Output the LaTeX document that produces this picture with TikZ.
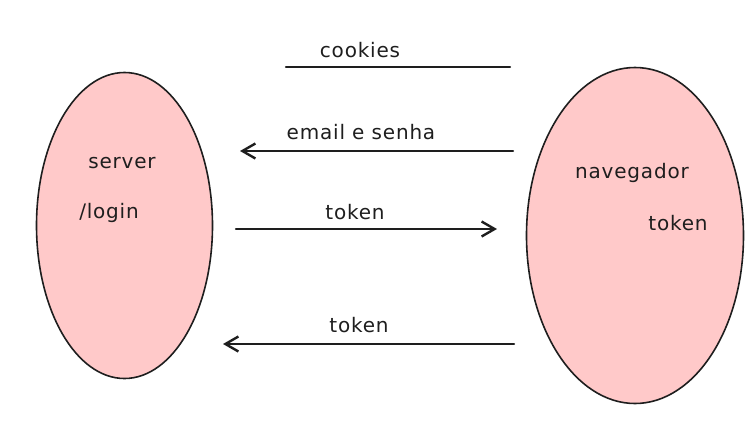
\documentclass[tikz,border=0pt]{standalone}
\usepackage{fontspec}
\setmainfont[LetterSpace=4]{DejaVu Sans}
\usetikzlibrary{positioning}
\usetikzlibrary{shapes}
\usetikzlibrary{arrows.meta}

\definecolor{blobpink}{HTML}{FFC9C9}
\definecolor{ink}{HTML}{1E1E1E}

\tikzset{
  blob/.style={ellipse, draw=ink, fill=blobpink, line width=1.6pt, inner sep=0pt},
  msg/.style={draw=ink, line width=2.4pt, line cap=round},
  tip/.style={-{Straight Barb[length=13pt, width=15pt, line width=2.4pt]}},
  lbl/.style={text=ink, font=\fontsize{20}{23}\selectfont, inner sep=0pt}
}

\begin{document}
\begin{tikzpicture}[x=1pt, y=-1pt]
				\useasboundingbox (0,0) rectangle (753,429);
				
				\node[blob, minimum width=176pt, minimum height=306pt] (server) at (124.5,225.5) {};
				\node[blob, minimum width=217pt, minimum height=336pt] (browser) at (635,235.5) {};
				
				\node[lbl] (serverlbl) at (122,163) {server};
				\node[lbl] (loginlbl) at (109,213) {/login};
				\node[lbl] (browserlbl) at (632,173) {navegador};
				\node[lbl] (storedtoken) at (678,223) {token};
				
				\coordinate (cookiesL) at (286,67);
				\coordinate (cookiesR) at (510,67);
				\coordinate (loginS) at (513,151);
				\coordinate (loginE) at (240,151);
				\coordinate (tokenS) at (236,229);
				\coordinate (tokenE) at (497,229);
				\coordinate (backS) at (514,344);
				\coordinate (backE) at (223,344);
				
				\draw[msg]  (cookiesL) -- (cookiesR);
				\draw[msg, tip]  (loginS) -- (loginE);
				\draw[msg, tip]  (tokenS) -- (tokenE);
				\draw[msg, tip]  (backS) -- (backE);
				
				\node[lbl] (cookieslbl) at (360,50) {cookies};
				\node[lbl] (loginlbl2) at (361,132) {email e senha};
				\node[lbl] (tokenlbl) at (355,212) {token};
				\node[lbl] (backlbl) at (359,325) {token};
			\end{tikzpicture}
\end{document}
